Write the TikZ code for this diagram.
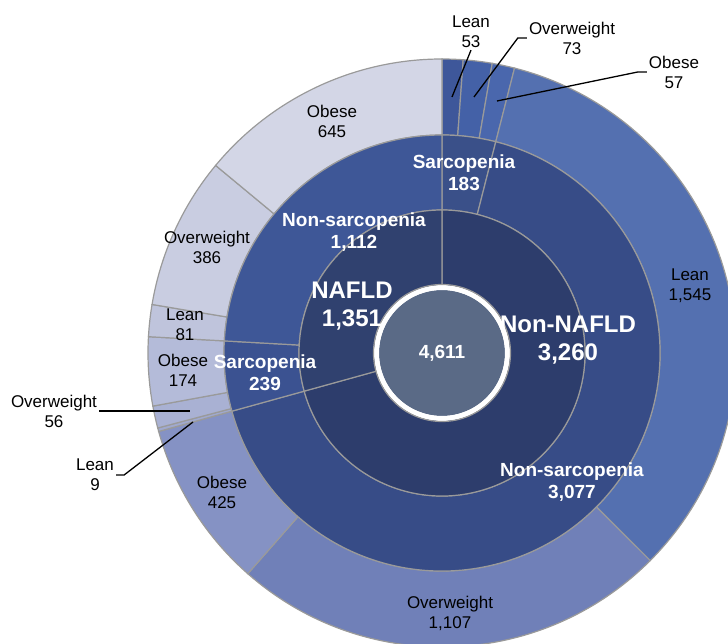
\documentclass[tikz,border=0pt]{standalone}
\usepackage{fontspec}
\setmainfont{Liberation Sans}
\usetikzlibrary{calc}

\definecolor{ctrfill}{HTML}{5A6A86}
\definecolor{edgegray}{HTML}{9A9A9A}
\definecolor{naf}{HTML}{30416F}
\definecolor{nonnaf}{HTML}{2D3D6C}
\definecolor{nafnsar}{HTML}{3E5797}
\definecolor{nafsar}{HTML}{3B5291}
\definecolor{nonsar}{HTML}{3A5089}
\definecolor{nonnsar}{HTML}{374C87}
\definecolor{cLeanA}{HTML}{3E579A}
\definecolor{cOwA}{HTML}{4461A7}
\definecolor{cObA}{HTML}{4A67AD}
\definecolor{cLeanB}{HTML}{5470B0}
\definecolor{cOwB}{HTML}{7080B8}
\definecolor{cObB}{HTML}{8592C4}
\definecolor{cObC}{HTML}{D3D6E6}
\definecolor{cOwC}{HTML}{C9CDE1}
\definecolor{cLeanC}{HTML}{BFC4DC}
\definecolor{cObD}{HTML}{B4BBD9}
\definecolor{cOwD}{HTML}{A9B1D3}
\definecolor{cLeanD}{HTML}{A0A9CE}

% inner radius, outer radius, start angle, end angle, colour
\newcommand{\ringpart}[5]{%
  \filldraw[fill=#5,draw=edgegray,line width=1.2pt]
    (#3:#1) arc[start angle=#3,end angle=#4,radius=#1]
    -- (#4:#2) arc[start angle=#4,end angle=#3,radius=#2] -- cycle;}

\tikzset{
  outlbl/.style={font=\fontsize{17}{20}\selectfont,align=center,text=black,inner sep=2pt},
  inlbl/.style={font=\bfseries\fontsize{19}{22}\selectfont,align=center,text=white,inner sep=2pt},
  biglbl/.style={font=\bfseries\fontsize{24}{28}\selectfont,align=center,text=white,inner sep=2pt},
  leader/.style={black,line width=1.3pt}
}

\begin{document}
\begin{tikzpicture}[x=1pt,y=1pt]
\useasboundingbox (-442,-291) rectangle (286,353);
\clip (-442,-291) rectangle (286,353);

% outer ring
\ringpart{218}{294}{90}{85.862}{cLeanA}
\ringpart{218}{294}{85.862}{80.163}{cOwA}
\ringpart{218}{294}{80.163}{75.712}{cObA}
\ringpart{218}{294}{75.712}{-44.912}{cLeanB}
\ringpart{218}{294}{-44.912}{-131.34}{cOwB}
\ringpart{218}{294}{-131.34}{-164.52}{cObB}
\ringpart{218}{294}{-164.52}{-165.22}{cLeanD}
\ringpart{218}{294}{-165.22}{-169.59}{cOwD}
\ringpart{218}{294}{-169.59}{-183.18}{cObD}
\ringpart{218}{294}{-183.18}{-189.50}{cLeanC}
\ringpart{218}{294}{-189.50}{-219.64}{cOwC}
\ringpart{218}{294}{-219.64}{-270}{cObC}

% middle ring
\ringpart{143}{218}{90}{75.712}{nonsar}
\ringpart{143}{218}{75.712}{-164.52}{nonnsar}
\ringpart{143}{218}{-164.52}{-183.18}{nafsar}
\ringpart{143}{218}{-183.18}{-270}{nafnsar}

% inner ring
\ringpart{66}{143}{90}{-164.52}{nonnaf}
\ringpart{66}{143}{-164.52}{-270}{naf}

% centre
\fill[ctrfill] (0,0) circle[radius=63];
\draw[white,line width=5pt] (0,0) circle[radius=65.5];
\draw[edgegray,line width=1.2pt] (0,0) circle[radius=68.5];

\node (tot) at (0,0) [inlbl] {4,611};
\node (nafld) at (-90,47) [biglbl] {NAFLD\\1,351};
\node (nonnafld) at (126,13) [biglbl] {Non-NAFLD\\3,260};

\node (s183) at (22,180) [inlbl] {Sarcopenia\\183};
\node (ns3077) at (130,-129) [inlbl] {Non-sarcopenia\\3,077};
\node (s239) at (-177,-20) [inlbl] {Sarcopenia\\239};
\node (ns1112) at (-88,121) [inlbl] {Non-sarcopenia\\1,112};

\node (ob645) at (-110,232) [outlbl] {Obese\\645};
\node (ow386) at (-235,106) [outlbl] {Overweight\\386};
\node (le81) at (-257,28) [outlbl] {Lean\\81};
\node (ob174) at (-259,-17) [outlbl] {Obese\\174};
\node (le1545) at (248,67) [outlbl] {Lean\\1,545};
\node (ob425) at (-220,-139) [outlbl] {Obese\\425};
\node (ow1107) at (8,-260) [outlbl] {Overweight\\1,107};

\node (le53) at (29,321) [outlbl] {Lean\\53};
\node (ow73) at (130,315) [outlbl] {Overweight\\73};
\node (ob57) at (232,281) [outlbl] {Obese\\57};
\node (ow56) at (-388,-58) [outlbl] {Overweight\\56};
\node (le9) at (-347,-122) [outlbl] {Lean\\9};

\coordinate (p53) at (10,256);
\coordinate (p73) at (32,256);
\coordinate (p57) at (55,252);
\coordinate (p56) at (-252,-58);
\coordinate (p9) at (-249,-69);

\draw[leader] (le53.south) -- (p53);
\draw[leader] (ow73.west) -- ++(-9,0) -- (p73);
\draw[leader] (ob57.west) -- ++(-9,0) -- (p57);
\draw[leader] (ow56.east) -- (p56);
\draw[leader] (le9.east) -- ++(8,0) -- (p9);

\end{tikzpicture}
\end{document}
